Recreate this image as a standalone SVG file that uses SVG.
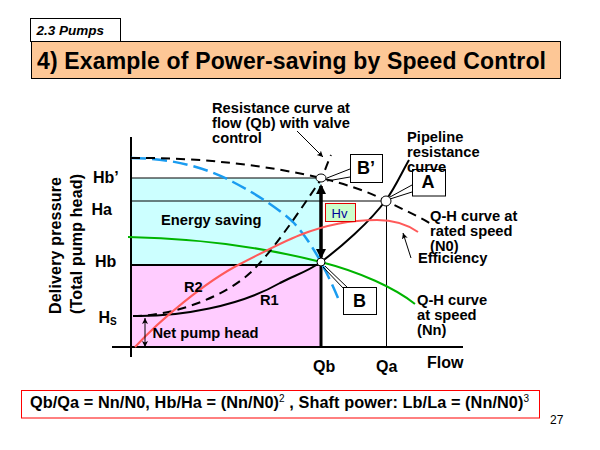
<svg xmlns="http://www.w3.org/2000/svg" width="600" height="450" viewBox="0 0 600 450">
<defs>
<marker id="ah" markerWidth="8" markerHeight="8" refX="6" refY="3" orient="auto-start-reverse" markerUnits="userSpaceOnUse"><path d="M0,0L6,3L0,6L1.500,3Z" fill="#000"/></marker>
<marker id="big" markerWidth="14" markerHeight="14" refX="8" refY="5" orient="auto" markerUnits="userSpaceOnUse"><path d="M0,0L10,5L0,10Z" fill="#000"/></marker>
</defs>
<style>
text{font-family:"Liberation Sans",Arial,sans-serif;font-weight:bold;fill:#000;font-size:14.7px}
.c{fill:none}
.box{fill:#fff;stroke:#000;stroke-width:1}
.pt{fill:#fff;stroke:#000;stroke-width:1}
.lead{stroke:#000;stroke-width:1;fill:none}
.ax{font-size:16px}
.nm{font-size:18px}
</style>
<rect width="600" height="450" fill="#fff"/>
<g id="tag"><rect x="30.500" y="18.500" width="90" height="23" class="box"/><text x="36.500" y="35" style="font-size:13.500px;font-style:italic">2.3 Pumps</text></g>
<g id="title"><rect x="31.500" y="41.500" width="529" height="37" fill="#fdc796" stroke="#000"/><text x="37" y="68.500" style="font-size:23px" textLength="509">4) Example of Power-saving by Speed Control</text></g>

<g id="regions">
<rect x="131" y="178" width="190" height="87" fill="#ccffff"/>
<rect x="131" y="265" width="190" height="82" fill="#ffccff"/>
</g>
<g id="connectors">
<path d="M131 178H321M131 201H386" stroke="#000" class="c"/>
<path d="M131 265H321" stroke="#000" stroke-width="2" class="c"/>
<path d="M386.500 201V347" stroke="#000" class="c"/>
<path d="M131 137V357M112 347H463" stroke="#000" stroke-width="2" class="c"/>
<path d="M321 347V186" stroke="#000" stroke-width="3" class="c" marker-end="url(#big)"/>
<path d="M321 186V257" stroke="#000" stroke-width="3" class="c" marker-end="url(#big)"/>
<path id="green" d="M128 237C180 238 250 244 321 262C360 272 395 288 415 304" stroke="#00b400" stroke-width="2" class="c"/>
<path id="blue" d="M131 158C170 158 205 167 233 182C260 196 280 210 293 222C312 242 327 272 338 298" stroke="#1a9cf0" stroke-width="2.500" stroke-dasharray="15 6" class="c"/>
<path id="qh" d="M131 158C200 157 270 166 321 178C345 184 370 192 386 201C402 209 418 216 433 225" stroke="#000" stroke-width="2" stroke-dasharray="9 6" class="c"/>
<path id="r1" d="M133 316C180 317 240 306 280 283C295 275 305 273 321 262C340 248 370 222 386 200C395 188 402 172 409 160" stroke="#000" stroke-width="2" class="c"/>
<path id="r2" d="M133 316C175 316 225 296 250 273C275 250 310 195 322 178C325 170 328 162 331 155" stroke="#000" stroke-width="2" stroke-dasharray="9 6" class="c"/>
<path id="eff" d="M135 347C160 320 205 282 240 264C262 253 280 243 300 235C320 227 345 220 377 220C395 220 408 225 418 232" stroke="#ff5a5a" stroke-width="2" class="c"/>
<path d="M145 318V347" stroke="#000" class="c" marker-start="url(#ah)" marker-end="url(#ah)"/>
<path d="M297 131L323 157" stroke="#000" class="c" marker-end="url(#ah)"/>
<path d="M411 258L403 233" stroke="#000" class="c" marker-end="url(#ah)"/>
<path class="lead" d="M327 178L350 169M327 181L350 177"/>
<path class="lead" d="M390 197L412 185M390 199L412 192"/>
<path class="lead" d="M325 266L348 288M323 267L344 289"/>
</g>
<g id="point-bp"><ellipse cx="321" cy="178" rx="5" ry="4" class="pt"/></g>
<g id="point-a"><ellipse cx="386" cy="201" rx="5" ry="5" class="pt"/></g>
<g id="point-b"><ellipse cx="321" cy="262" rx="4" ry="4" class="pt"/></g>
<g id="node-bprime"><rect x="350.500" y="154.500" width="32" height="28" class="box"/><text x="357" y="174" class="nm">B’</text></g>
<g id="node-a"><rect x="412.500" y="169.500" width="33" height="26.500" class="box"/><text x="421.500" y="188" class="nm">A</text></g>
<g id="node-b"><rect x="343.500" y="287.500" width="33" height="27" class="box"/><text x="353" y="307" class="nm">B</text></g>
<g id="hv"><rect x="325.500" y="203.500" width="30" height="18" fill="#ccffcc" stroke="#e00000"/><text x="331.500" y="218" style="font-size:13px;font-weight:normal;fill:#000099">Hv</text></g>

<g id="labels">
<text x="212" y="113">Resistance curve at</text>
<text x="212" y="128">flow (Qb) with valve</text>
<text x="212" y="143">control</text>
<text x="407" y="142">Pipeline</text>
<text x="407" y="157">resistance</text>
<text x="407" y="172">curve</text>
<text x="430" y="221">Q-H curve at</text>
<text x="430" y="236">rated speed</text>
<text x="430" y="251">(N0)</text>
<text x="418" y="263">Efficiency</text>
<text x="417" y="305">Q-H curve</text>
<text x="417" y="320">at speed</text>
<text x="417" y="335">(Nn)</text>
<text x="161" y="225">Energy saving</text>
<text x="184" y="292">R2</text>
<text x="260" y="305">R1</text>
<text x="152.500" y="338">Net pump head</text>
<text x="93" y="183" class="ax">Hb’</text>
<text x="91.500" y="215" class="ax">Ha</text>
<text x="95" y="267" class="ax">Hb</text>
<text x="98.500" y="323" class="ax">H<tspan font-size="10" dy="2">S</tspan></text>
<text x="313" y="372" class="ax">Qb</text>
<text x="376" y="372" class="ax">Qa</text>
<text x="427" y="368" class="ax">Flow</text>
<text transform="translate(61 314) rotate(-90)" class="ax" textLength="137">Delivery pressure</text>
<text transform="translate(81.500 314) rotate(-90)" class="ax" textLength="140">(Total pump head)</text>
</g>
<g id="formula"><rect x="21.500" y="390.500" width="518" height="27.500" fill="#fff" stroke="#f00"/>
<text x="30" y="408" style="font-size:16.300px" textLength="499">Qb/Qa = Nn/N0, Hb/Ha = (Nn/N0)<tspan font-size="10" font-weight="normal" dy="-6">2</tspan><tspan dy="6"> , Shaft power: Lb/La = (Nn/N0)</tspan><tspan font-size="10" font-weight="normal" dy="-6">3</tspan></text></g>
<text x="550" y="424" style="font-size:12px;font-weight:normal">27</text>
</svg>
